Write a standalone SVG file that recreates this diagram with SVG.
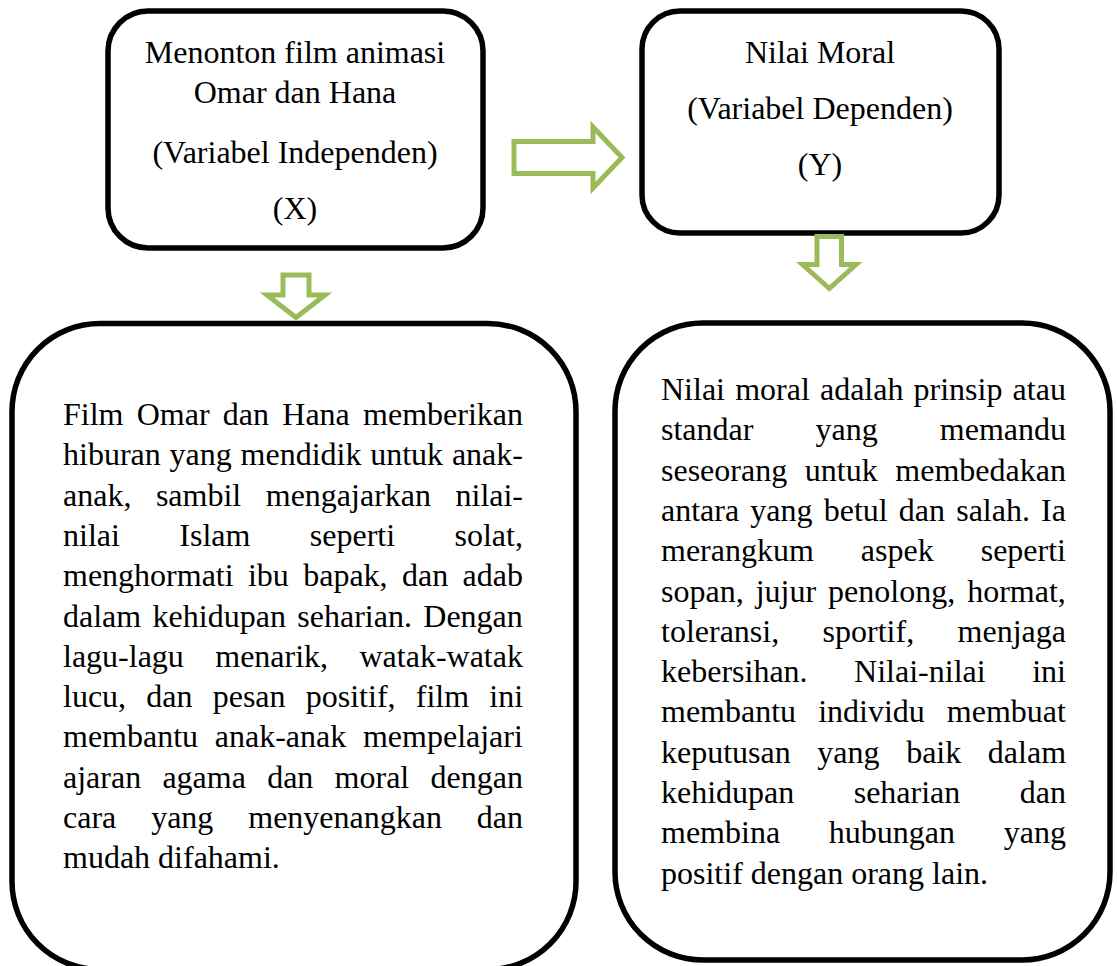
<svg xmlns="http://www.w3.org/2000/svg" width="1117" height="966" viewBox="0 0 1117 966">
<style>
.box{fill:#ffffff;stroke:#000000;stroke-width:5.5}
.arr{fill:#ffffff;stroke:#9BBB59;stroke-width:5;stroke-linejoin:miter}
text{font-family:"Liberation Serif","Times New Roman",serif;font-size:32px;fill:#000000}
.c{text-anchor:middle}
</style>
<rect width="1117" height="966" fill="#ffffff"/>
<g id="node-x">
<rect class="box" x="108" y="11" width="375" height="237" rx="40" ry="40"/>
<text class="c" x="295" y="63">Menonton film animasi</text>
<text class="c" x="295" y="103">Omar dan Hana</text>
<text class="c" x="295" y="163">(Variabel Independen)</text>
<text class="c" x="295" y="219">(X)</text>
</g>
<g id="node-y">
<rect class="box" x="642" y="11" width="357" height="222" rx="38" ry="38"/>
<text class="c" x="820" y="63">Nilai Moral</text>
<text class="c" x="820" y="119">(Variabel Dependen)</text>
<text class="c" x="820" y="175">(Y)</text>
</g>
<g id="node-x-desc">
<rect class="box" x="12" y="323.5" width="564" height="646" rx="88" ry="88"/>
<text x="63" y="425" word-spacing="5.25">Film Omar dan Hana memberikan</text>
<text x="63" y="465.3" word-spacing="0.8">hiburan yang mendidik untuk anak-</text>
<text x="63" y="505.6" word-spacing="16.5">anak, sambil mengajarkan nilai-</text>
<text x="63" y="545.9" word-spacing="51.4">nilai Islam seperti solat,</text>
<text x="63" y="586.2" word-spacing="6.35">menghormati ibu bapak, dan adab</text>
<text x="63" y="626.5" word-spacing="3.4">dalam kehidupan seharian. Dengan</text>
<text x="63" y="666.8" word-spacing="23.4">lagu-lagu menarik, watak-watak</text>
<text x="63" y="707.1" word-spacing="12.2">lucu, dan pesan positif, film ini</text>
<text x="63" y="747.4" word-spacing="8.7">membantu anak-anak mempelajari</text>
<text x="63" y="787.7" word-spacing="13.25">ajaran agama dan moral dengan</text>
<text x="63" y="828" word-spacing="26.9">cara yang menyenangkan dan</text>
<text x="63" y="868.3">mudah difahami.</text>
</g>
<g id="node-y-desc">
<rect class="box" x="615" y="323" width="495" height="637" rx="88" ry="88"/>
<text x="661" y="400" word-spacing="2.15">Nilai moral adalah prinsip atau</text>
<text x="661" y="440.3" word-spacing="54.1">standar yang memandu</text>
<text x="661" y="480.6" word-spacing="9.65">seseorang untuk membedakan</text>
<text x="661" y="520.9" word-spacing="3.16">antara yang betul dan salah. Ia</text>
<text x="661" y="561.2" word-spacing="39">merangkum aspek seperti</text>
<text x="661" y="601.5" word-spacing="4">sopan, jujur penolong, hormat,</text>
<text x="661" y="641.8" word-spacing="35.4">toleransi, sportif, menjaga</text>
<text x="661" y="682.1" word-spacing="38.5">kebersihan. Nilai-nilai ini</text>
<text x="661" y="722.4" word-spacing="14.05">membantu individu membuat</text>
<text x="661" y="762.7" word-spacing="18.6">keputusan yang baik dalam</text>
<text x="661" y="803" word-spacing="51.4">kehidupan seharian dan</text>
<text x="661" y="843.3" word-spacing="40.75">membina hubungan yang</text>
<text x="661" y="883.6">positif dengan orang lain.</text>
</g>
<g id="connectors">
<polygon class="arr" points="514,141.5 593,141.5 593,127 622,157.5 593,188 593,173.5 514,173.5"/>
<polygon class="arr" points="283,275 309,275 309,295 325,295 296,317.5 267,295 283,295"/>
<polygon class="arr" points="817,236.5 841.5,236.5 841.5,264.5 856,264.5 829.3,288.5 802.5,264.5 817,264.5"/>
</g>
</svg>
